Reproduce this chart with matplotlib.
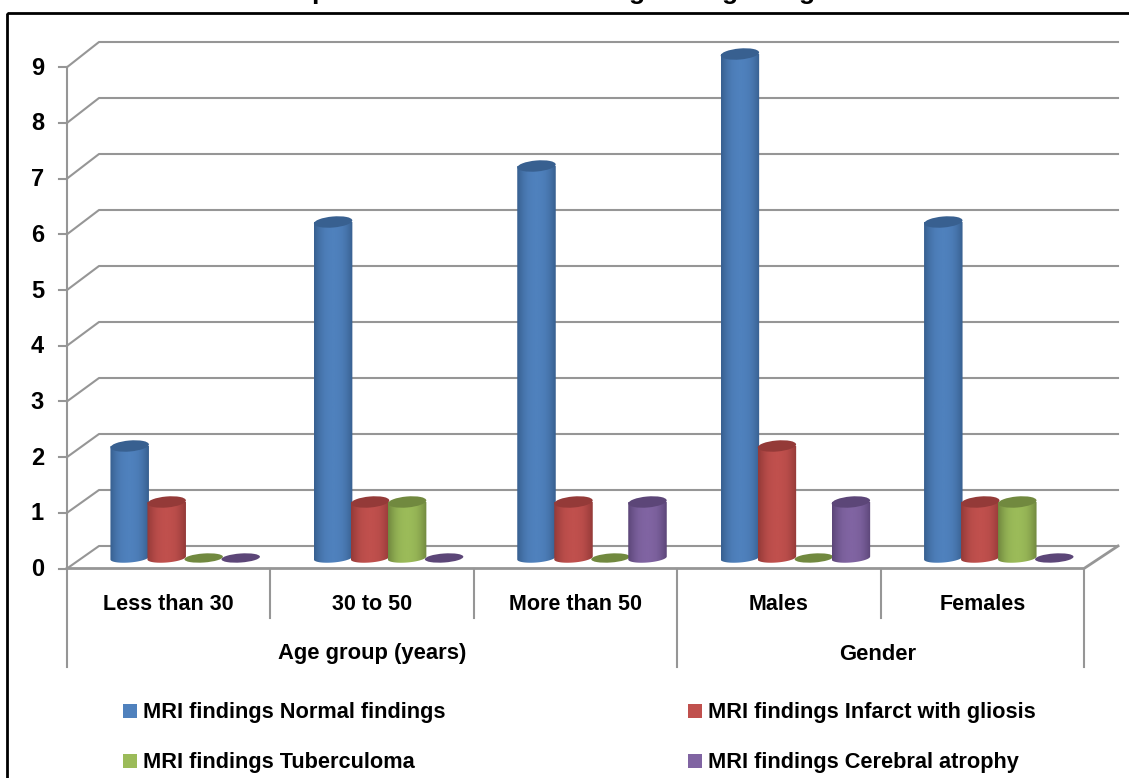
import numpy as np
import matplotlib
matplotlib.use('Agg')
import matplotlib.pyplot as plt
from matplotlib.patches import Ellipse, Rectangle

plt.rcParams['font.family'] = ['Liberation Sans', 'DejaVu Sans']
plt.rcParams['font.weight'] = 'bold'

# Datos
grupos = ['Less than 30', '30 to 50', 'More than 50', 'Males', 'Females']
normal = [2, 6, 7, 9, 6]
infarto = [1, 1, 1, 2, 1]
tuberculoma = [0, 1, 0, 0, 1]
atrofia = [0, 0, 1, 1, 0]
series = [normal, infarto, tuberculoma, atrofia]
nombres = ['MRI findings Normal findings', 'MRI findings Infarct with gliosis',
           'MRI findings Tuberculoma', 'MRI findings Cerebral atrophy']
colores = ['#4f81bd', '#c0504d', '#9bbb59', '#8064a2']
oscuros = ['#386090', '#943a38', '#71893f', '#5c4678']
marcas_y = list(range(10))
grupos_sup = ['Age group (years)', 'Gender']
# el titulo esta cortado en el original: solo se ven estos trazos
restos_titulo = ['p', 'g', 'g', 'g']
restos_x = [319, 637, 730, 807]

W, H = 1129, 778
fig = plt.figure(figsize=(W / 100, H / 100), dpi=100)
ax = fig.add_axes([0, 0, 1, 1])
# eje en pixeles de la imagen, y hacia abajo
ax.set_xlim(0, W)
ax.set_ylim(H, 0)
ax.axis('off')

gris = '#969696'
x0, x1 = 67, 1084      # frente del piso
y_cero = 568.5
paso_frente = 55.7
paso_fondo = 56
prof_y = 22.5


def yfrente(v):
    return y_cero - v * paso_frente


def yfondo(v):
    return y_cero - prof_y - v * paso_fondo


# marco
ax.add_patch(Rectangle((7, 13), W + 20, H, fill=False, ec='black', lw=2, zorder=1))
for letra, xl in zip(restos_titulo, restos_x):
    ax.text(xl, -1, letra, ha='center', va='baseline', fontsize=19, color='black', zorder=0.5)

# rejilla
for v in marcas_y:
    ax.plot([x0, 99, 1118], [yfrente(v), yfondo(v), yfondo(v)], color=gris, lw=1.5, zorder=2)
    ax.plot([x0 - 8, x0], [yfrente(v), yfrente(v)], color=gris, lw=1.5, zorder=2)
    ax.text(37.5, yfrente(v) + 1, str(v), ha='center', va='center', fontsize=17, zorder=5)
ax.plot([x0, x0], [yfrente(9), 667], color=gris, lw=1.5, zorder=2)
ax.plot([x0, x1, 1118], [y_cero, y_cero, yfondo(0)], color=gris, lw=2, zorder=2)
ax.plot([x1, x1], [y_cero, 667], color=gris, lw=1.5, zorder=2)

# separadores y etiquetas de categorias
ancho_cat = (x1 - x0) / len(grupos)
for i, g in enumerate(grupos):
    ax.text(x0 + ancho_cat * (i + 0.5), 605, g, ha='center', va='center', fontsize=15.5, zorder=5)
    if i:
        xs = x0 + ancho_cat * i
        ax.plot([xs, xs], [y_cero, 618 if i != 3 else 667], color=gris, lw=1.5, zorder=2)
ax.text(x0 + ancho_cat * 1.5, 654, grupos_sup[0], ha='center', va='center', fontsize=15.8, zorder=5)
ax.text(x0 + ancho_cat * 4 - 3, 654, grupos_sup[1], ha='center', va='center', fontsize=15.8, zorder=5)

# barras cilindricas
ancho = 38.5
base_y = 558
gradiente = np.array([0.0, 0.35, 0.65, 0.85, 0.95, 1.0, 1.0, 0.95, 0.85, 0.65, 0.35, 0.0])


def cilindro(xc, alto, color, oscuro, z):
    top = base_y - alto * paso_fondo
    izq, der = xc - ancho / 2, xc + ancho / 2
    if alto == 0:
        ax.add_patch(Ellipse((xc, base_y), ancho, 9, angle=-4, fc=oscuro, ec='none', zorder=z))
        return
    c0 = np.array(matplotlib.colors.to_rgb(oscuro))
    c1 = np.array(matplotlib.colors.to_rgb(color))
    t = np.interp(np.linspace(0, 1, 60), np.linspace(0, 1, len(gradiente)), gradiente)
    img = (c0[None, None, :] * (1 - t[None, :, None]) + c1[None, None, :] * t[None, :, None])
    im = ax.imshow(img, extent=(izq, der, base_y + 5, top), aspect='auto', zorder=z,
                   interpolation='bilinear')
    ang = np.linspace(np.pi, 0, 30)
    clip = plt.Polygon(
        np.vstack([
            [[izq, top], [izq, base_y]],
            np.column_stack([xc + ancho / 2 * np.cos(ang),
                             base_y + 4.5 * np.sin(ang) - 1.5 * np.cos(ang)]),
            [[der, top]],
        ]), closed=True, transform=ax.transData)
    im.set_clip_path(clip)
    ax.add_patch(Ellipse((xc, top), ancho, 11, angle=-5, fc=oscuro, ec='none', zorder=z + 0.1))


sep = 37
for i in range(len(grupos)):
    xc_cat = x0 + ancho_cat * (i + 0.5) + 16.5
    for s, valores in enumerate(series):
        xc = xc_cat + (s - 1.5) * sep
        cilindro(xc, valores[i], colores[s], oscuros[s], 3 + s * 0.2)

ax.set_xlim(0, W)
ax.set_ylim(H, 0)

# leyenda
leyenda_x = [130, 695]
leyenda_y = [711, 761]
for k, nombre in enumerate(nombres):
    lx = leyenda_x[k % 2]
    ly = leyenda_y[k // 2]
    ax.add_patch(Rectangle((lx - 7, ly - 7), 14, 14, fc=colores[k], ec='none', zorder=5))
    ax.text(lx + 13, ly + 1.5, nombre, ha='left', va='center', fontsize=15.7, zorder=5)

fig.savefig('out.png', dpi=100)
